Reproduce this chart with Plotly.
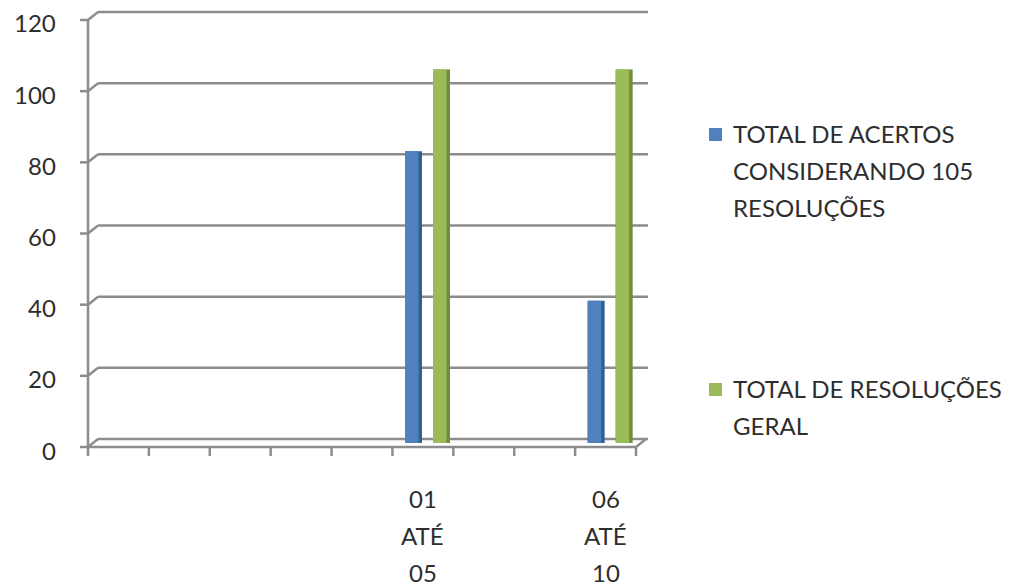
import plotly.graph_objects as go

# ---- data -------------------------------------------------------------
categories = ["", "", "", "", "", "01 ATÉ 05", "", "", "06 ATÉ 10"]
acertos = [None, None, None, None, None, 82, None, None, 40]
resolucoes = [None, None, None, None, None, 105, None, None, 105]
series_names = [
    ["TOTAL DE ACERTOS", "CONSIDERANDO 105", "RESOLUÇÕES"],
    ["TOTAL DE RESOLUÇÕES", "GERAL"],
]
y_ticks = [0, 20, 40, 60, 80, 100, 120]

# ---- geometry (pixels) ------------------------------------------------
W, H = 1021, 587
L, R, T, B = 88, 648, 11, 447          # plot area
FRONT_RIGHT = 636                       # right end of the front floor edge
DX, DY = 10, 8                          # depth offset of the back wall
SW = (FRONT_RIGHT - L) / len(categories)  # slot width
PPU = (B - 20) / 120                    # pixels per unit on the front face
MID0 = B - DY / 2                       # zero line at mid depth

y_lo = (MID0 - B) / PPU
y_hi = (MID0 - T) / PPU
x_lo = (L - (L + DX / 2 + SW / 2)) / SW
x_hi = (R - (L + DX / 2 + SW / 2)) / SW

GRID = "#8c8c8c"
TEXT = "#2e2e2e"
FONT = "Lato"


def px(x):
    return (x - L) / (R - L)


def py(y):
    return (B - y) / (B - T)


def y_front(v):
    return B - v * PPU


def line(x0, y0, x1, y1, w=2.5, color=GRID):
    return dict(type="line", xref="paper", yref="paper",
                x0=px(x0), y0=py(y0), x1=px(x1), y1=py(y1),
                line=dict(color=color, width=w), layer="below")


shapes = []
annotations = []
for v in y_ticks:
    yf = y_front(v)
    yb = yf - DY
    shapes.append(line(L + DX, yb, R, yb))          # back-wall gridline
    shapes.append(line(L, yf, L + DX, yb))          # side-wall diagonal
    shapes.append(line(L - 8, yf, L, yf))           # tick mark
    annotations.append(dict(
        x=px(58), xref="paper", y=py(yf + 3), yref="paper",
        text=str(v), showarrow=False, xanchor="right", yanchor="middle",
        font=dict(family=FONT, size=24, color=TEXT)))
shapes.append(line(L, y_front(0), L, y_front(120)))  # value axis
shapes.append(line(L, B, FRONT_RIGHT, B))            # front floor edge
shapes.append(line(FRONT_RIGHT, B, FRONT_RIGHT + DX, B - DY))
for i in range(len(categories) + 1):
    xt = L + i * SW
    shapes.append(line(xt, B, xt, B + 9))

# ---- bars (side face + front face) -----------------------------------
x_idx = list(range(len(categories)))
full_w = 17 / SW
face_w = 13.5 / SW
blue_off = (405 - (L + DX / 2 + 5.5 * SW)) / SW
green_off = blue_off + 28 / SW

fig = go.Figure()
for vals, off, side, face in [
    (acertos, blue_off, "#335f93", "#4f81bd"),
    (resolucoes, green_off, "#728c3f", "#9bbb59"),
]:
    fig.add_trace(go.Bar(x=x_idx, y=vals, width=full_w, offset=off,
                         marker=dict(color=side, line=dict(width=0)),
                         showlegend=False, hoverinfo="skip"))
    fig.add_trace(go.Bar(x=x_idx, y=vals, width=face_w, offset=off,
                         marker=dict(color=face, line=dict(width=0)),
                         showlegend=False))

# ---- category labels (three lines each) -------------------------------
line_y = [498, 535, 572]
for i, cat in enumerate(categories):
    if not cat:
        continue
    for k, part in enumerate(cat.split(" ")):
        annotations.append(dict(
            x=i, xref="x", xshift=-DX / 2, y=py(line_y[k]), yref="paper",
            text=part, showarrow=False, xanchor="center", yanchor="middle",
            font=dict(family=FONT, size=24, color=TEXT)))

# ---- legend ----------------------------------------------------------
legend_rows = [133, 388]
legend_colors = ["#4f81bd", "#9bbb59"]
for name_lines, y0, col in zip(series_names, legend_rows, legend_colors):
    shapes.append(dict(type="rect", xref="paper", yref="paper",
                       x0=px(709), x1=px(722), y0=py(y0 - 5), y1=py(y0 + 8),
                       fillcolor=col, line=dict(width=0)))
    for k, txt in enumerate(name_lines):
        annotations.append(dict(
            x=px(731), xref="paper", y=py(y0 + k * 37), yref="paper",
            text=txt, showarrow=False, xanchor="left", yanchor="middle",
            font=dict(family=FONT, size=24, color=TEXT)))

fig.update_layout(
    width=W, height=H, autosize=False,
    margin=dict(l=L, r=W - R, t=T, b=H - B, pad=0),
    paper_bgcolor="white", plot_bgcolor="white",
    barmode="overlay", showlegend=False,
    shapes=shapes, annotations=annotations,
    xaxis=dict(range=[x_lo, x_hi], showgrid=False, zeroline=False,
               showline=False, showticklabels=False, ticks=""),
    yaxis=dict(range=[y_lo, y_hi], showgrid=False, zeroline=False,
               showline=False, ticks="", showticklabels=False),
)

fig.write_html("out.html")
